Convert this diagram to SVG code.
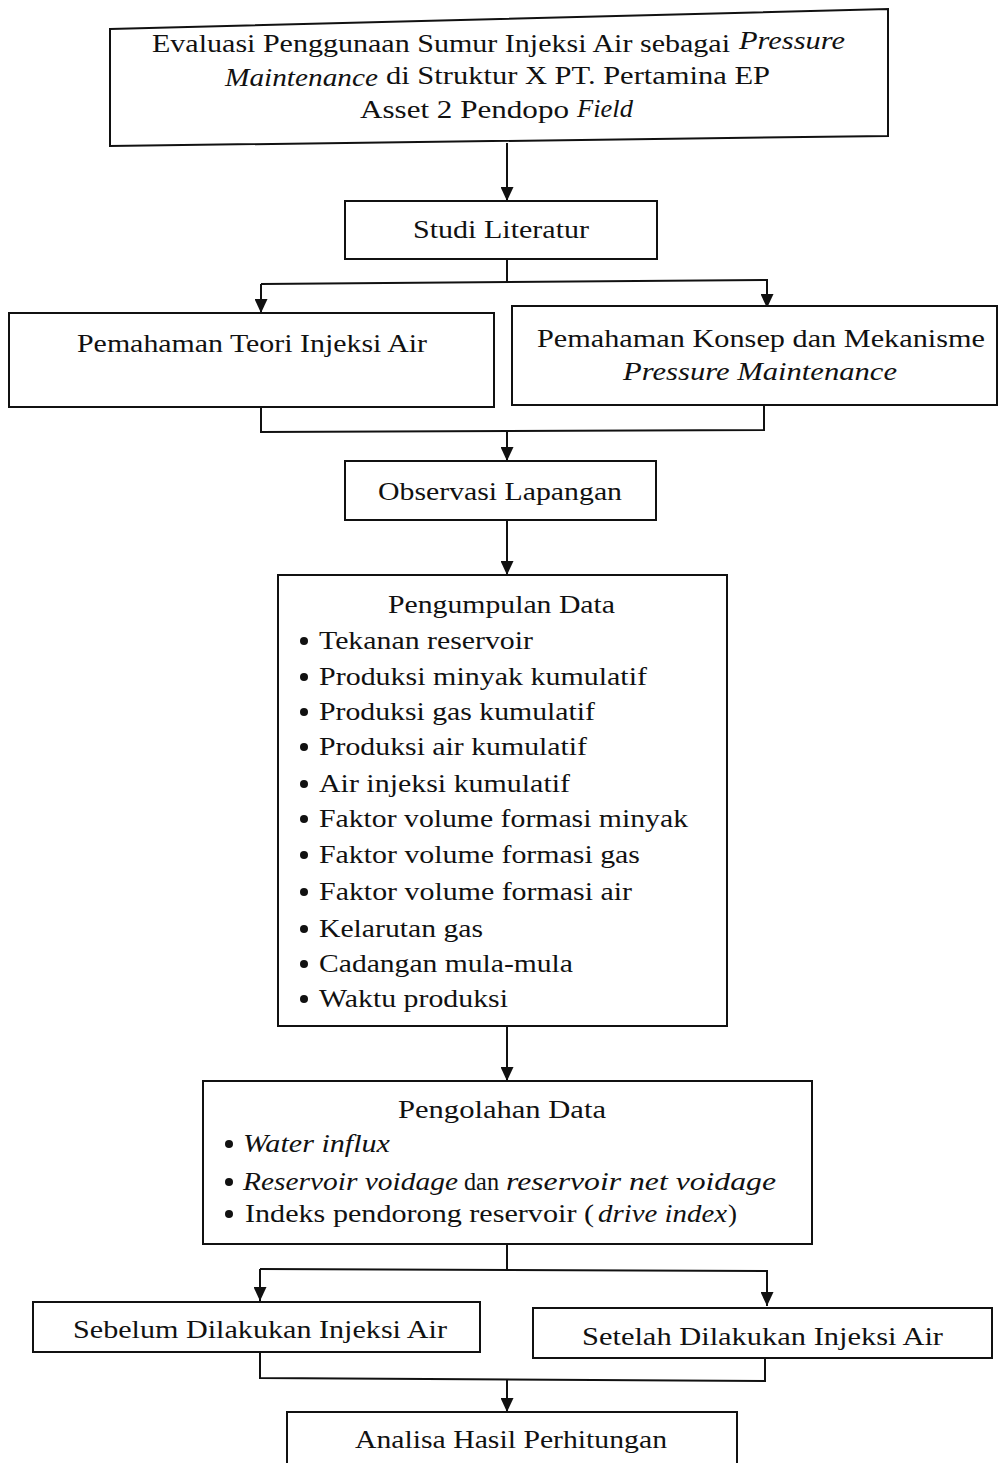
<svg xmlns="http://www.w3.org/2000/svg" width="999" height="1463" viewBox="0 0 999 1463">
<style>
  .box { fill: #fff; stroke: #111; stroke-width: 2; }
  .c { fill: none; stroke: #111; stroke-width: 2; }
  text { font-family: "Liberation Serif", "Times New Roman", serif; font-size: 26px; fill: #111; }
  .t { font-size: 25px; }
  .i { font-style: italic; }
  .b { fill: #111; }
</style>
<defs>
  <marker id="ah" markerUnits="userSpaceOnUse" markerWidth="14" markerHeight="13" refX="14" refY="6.5" orient="auto">
    <path d="M0,0 L14,6.5 L0,13 Z" fill="#111"/>
  </marker>
</defs>
<rect width="999" height="1463" fill="#fff"/>

<g id="connectors">
  <line class="c" x1="507" y1="143" x2="507" y2="201" marker-end="url(#ah)"/>
  <line class="c" x1="507" y1="259" x2="507" y2="283"/>
  <polyline class="c" points="261,284 767,280 767,308" marker-end="url(#ah)"/>
  <line class="c" x1="261" y1="284" x2="261" y2="313" marker-end="url(#ah)"/>
  <polyline class="c" points="261,407 261,432 764,430 764,405"/>
  <line class="c" x1="507" y1="431" x2="507" y2="461" marker-end="url(#ah)"/>
  <line class="c" x1="507" y1="520" x2="507" y2="575" marker-end="url(#ah)"/>
  <line class="c" x1="507" y1="1026" x2="507" y2="1081" marker-end="url(#ah)"/>
  <line class="c" x1="507" y1="1244" x2="507" y2="1270"/>
  <polyline class="c" points="260,1269 767,1271 767,1306" marker-end="url(#ah)"/>
  <line class="c" x1="260" y1="1269" x2="260" y2="1301" marker-end="url(#ah)"/>
  <polyline class="c" points="260,1352 260,1378 765,1381 765,1358"/>
  <line class="c" x1="507" y1="1380" x2="507" y2="1412" marker-end="url(#ah)"/>
</g>

<g id="node-judul">
  <path class="box" d="M110,29 L888,9 L888,136 L110,146 Z"/>
  <text class="t" x="152" y="52" textLength="578" lengthAdjust="spacingAndGlyphs">Evaluasi Penggunaan Sumur Injeksi Air sebagai</text>
  <text class="t i" x="739" y="49" textLength="106" lengthAdjust="spacingAndGlyphs">Pressure</text>
  <text class="t i" x="225" y="86" textLength="153" lengthAdjust="spacingAndGlyphs">Maintenance</text>
  <text class="t" x="386" y="84" textLength="384" lengthAdjust="spacingAndGlyphs">di Struktur X PT. Pertamina EP</text>
  <text class="t" x="360" y="118" textLength="209" lengthAdjust="spacingAndGlyphs">Asset 2 Pendopo</text>
  <text class="t i" x="577" y="117" textLength="56" lengthAdjust="spacingAndGlyphs">Field</text>
</g>

<g id="node-studi">
  <rect class="box" x="345" y="201" width="312" height="58"/>
  <text x="413" y="238" textLength="176" lengthAdjust="spacingAndGlyphs">Studi Literatur</text>
</g>

<g id="node-teori">
  <rect class="box" x="9" y="313" width="485" height="94"/>
  <text x="77" y="352" textLength="350" lengthAdjust="spacingAndGlyphs">Pemahaman Teori Injeksi Air</text>
</g>

<g id="node-konsep">
  <rect class="box" x="512" y="306" width="485" height="99"/>
  <text x="537" y="347" textLength="448" lengthAdjust="spacingAndGlyphs">Pemahaman Konsep dan Mekanisme</text>
  <text class="i" x="623" y="380" textLength="274" lengthAdjust="spacingAndGlyphs">Pressure Maintenance</text>
</g>

<g id="node-observasi">
  <rect class="box" x="345" y="461" width="311" height="59"/>
  <text x="378" y="500" textLength="244" lengthAdjust="spacingAndGlyphs">Observasi Lapangan</text>
</g>

<g id="node-pengumpulan">
  <rect class="box" x="278" y="575" width="449" height="451"/>
  <text x="388" y="613" textLength="227" lengthAdjust="spacingAndGlyphs">Pengumpulan Data</text>
  <g class="b">
    <circle cx="304" cy="641" r="4"/>
    <circle cx="304" cy="677" r="4"/>
    <circle cx="304" cy="712" r="4"/>
    <circle cx="304" cy="747" r="4"/>
    <circle cx="304" cy="784" r="4"/>
    <circle cx="304" cy="819" r="4"/>
    <circle cx="304" cy="855" r="4"/>
    <circle cx="304" cy="892" r="4"/>
    <circle cx="304" cy="929" r="4"/>
    <circle cx="304" cy="964" r="4"/>
    <circle cx="304" cy="999" r="4"/>
  </g>
  <text x="319" y="649" textLength="214" lengthAdjust="spacingAndGlyphs">Tekanan reservoir</text>
  <text x="319" y="685" textLength="328" lengthAdjust="spacingAndGlyphs">Produksi minyak kumulatif</text>
  <text x="319" y="720" textLength="276" lengthAdjust="spacingAndGlyphs">Produksi gas kumulatif</text>
  <text x="319" y="755" textLength="268" lengthAdjust="spacingAndGlyphs">Produksi air kumulatif</text>
  <text x="319" y="792" textLength="251" lengthAdjust="spacingAndGlyphs">Air injeksi kumulatif</text>
  <text x="319" y="827" textLength="369" lengthAdjust="spacingAndGlyphs">Faktor volume formasi minyak</text>
  <text x="319" y="863" textLength="321" lengthAdjust="spacingAndGlyphs">Faktor volume formasi gas</text>
  <text x="319" y="900" textLength="313" lengthAdjust="spacingAndGlyphs">Faktor volume formasi air</text>
  <text x="319" y="937" textLength="164" lengthAdjust="spacingAndGlyphs">Kelarutan gas</text>
  <text x="319" y="972" textLength="254" lengthAdjust="spacingAndGlyphs">Cadangan mula-mula</text>
  <text x="319" y="1007" textLength="189" lengthAdjust="spacingAndGlyphs">Waktu produksi</text>
</g>

<g id="node-pengolahan">
  <rect class="box" x="203" y="1081" width="609" height="163"/>
  <text x="398" y="1118" textLength="208" lengthAdjust="spacingAndGlyphs">Pengolahan Data</text>
  <g class="b">
    <circle cx="229" cy="1144" r="4"/>
    <circle cx="229" cy="1182" r="4"/>
    <circle cx="229" cy="1214" r="4"/>
  </g>
  <text class="i" x="243" y="1152" textLength="147" lengthAdjust="spacingAndGlyphs">Water influx</text>
  <text class="i" x="243" y="1190" textLength="215" lengthAdjust="spacingAndGlyphs">Reservoir voidage</text>
  <text x="464" y="1190" textLength="35" lengthAdjust="spacingAndGlyphs">dan</text>
  <text class="i" x="506" y="1190" textLength="270" lengthAdjust="spacingAndGlyphs">reservoir net voidage</text>
  <text x="245" y="1222" textLength="349" lengthAdjust="spacingAndGlyphs">Indeks pendorong reservoir (</text>
  <text class="i" x="598" y="1222" textLength="129" lengthAdjust="spacingAndGlyphs">drive index</text>
  <text x="728" y="1222" textLength="9" lengthAdjust="spacingAndGlyphs">)</text>
</g>

<g id="node-sebelum">
  <rect class="box" x="33" y="1302" width="447" height="50"/>
  <text x="73" y="1338" textLength="374" lengthAdjust="spacingAndGlyphs">Sebelum Dilakukan Injeksi Air</text>
</g>

<g id="node-setelah">
  <rect class="box" x="533" y="1308" width="459" height="50"/>
  <text x="582" y="1345" textLength="361" lengthAdjust="spacingAndGlyphs">Setelah Dilakukan Injeksi Air</text>
</g>

<g id="node-analisa">
  <rect class="box" x="287" y="1412" width="450" height="70"/>
  <text x="355" y="1448" textLength="312" lengthAdjust="spacingAndGlyphs">Analisa Hasil Perhitungan</text>
</g>
</svg>
